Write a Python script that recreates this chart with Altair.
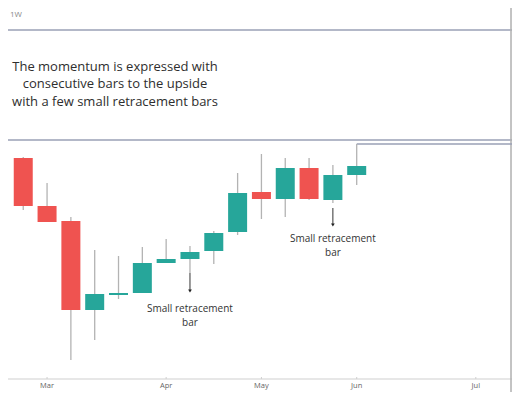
import altair as alt
import pandas as pd

# Weekly candles (bar index, arbitrary price units)
bar_idx = list(range(1, 16))
opens  = [242, 194, 179,  90, 105, 107, 137, 141, 149, 168, 208, 201, 232, 200, 225]
closes = [194, 178,  90, 106, 107, 137, 141, 148, 167, 207, 201, 232, 201, 225, 234]
highs  = [243, 217, 183, 150, 144, 153, 161, 154, 169, 227, 246, 242, 242, 235, 256]
lows   = [190, 178,  40,  60, 101, 107, 137, 127, 136, 165, 181, 183, 200, 197, 215]

month_labels = ["Mar", "Apr", "May", "Jun", "Jul"]
month_idx = [2, 7, 11, 15, 20]

box_lines = ["The momentum is expressed with",
             "consecutive bars to the upside",
             "with a few small retracement bars"]
box_y = [333, 316, 298]

note_lines = ["Small retracement", "bar"]
note1_idx, note1_y = 8, [91, 77]
note2_idx, note2_y = 14, [161, 147]

GREEN = "#26a69a"
RED = "#ef5350"
FRAME = "#9aa0b6"
FONT = "Open Sans"

candles = pd.DataFrame({"k": bar_idx, "open": opens, "close": closes,
                        "high": highs, "low": lows})
candles["dir"] = ["up" if c >= o else "down" for o, c in zip(opens, closes)]

xs = alt.Scale(domain=[0.57, 21.31], nice=False, zero=False)
ys = alt.Scale(domain=[8, 392], nice=False, zero=False)
X = lambda f: alt.X(f, scale=xs, axis=None)
Y = lambda f: alt.Y(f, scale=ys, axis=None)
col = alt.Color("dir:N", scale=alt.Scale(domain=["up", "down"], range=[GREEN, RED]), legend=None)

base = alt.Chart(candles)

wicks = base.mark_rule(color="#b3b3b3", strokeWidth=1.3).encode(
    x=X("k:Q"), y=Y("low:Q"), y2="high:Q")
bodies = base.mark_bar(size=19).encode(
    x=X("k:Q"), y=Y("open:Q"), y2="close:Q", color=col)

frame_df = pd.DataFrame({"p": [370, 260]})
frame = alt.Chart(frame_df).mark_rule(color=FRAME, strokeWidth=1.4).encode(
    y=Y("p:Q"), x=alt.value(0), x2=alt.value(504))

last_df = pd.DataFrame({"k": [bar_idx[-1]], "p": [highs[-1]]})
price_line = alt.Chart(last_df).mark_rule(color=FRAME, strokeWidth=1.3).encode(
    x=X("k:Q"), x2=alt.value(504), y=Y("p:Q"))

right_border = alt.Chart(frame_df).mark_rule(color="#b0b0b0", strokeWidth=1).encode(
    x=alt.value(503), y=alt.value(0), y2=alt.value(384))

axis_df = pd.DataFrame({"p": [21]})
axis_line = alt.Chart(axis_df).mark_rule(color="#cfcfcf", strokeWidth=1).encode(
    y=Y("p:Q"), x=alt.value(0), x2=alt.value(504))

months = pd.DataFrame({"k": month_idx, "m": month_labels, "p": [14] * 5,
                       "t0": [21] * 5, "t1": [23] * 5})
month_ticks = alt.Chart(months).mark_rule(color="#cfcfcf").encode(
    x=X("k:Q"), y=Y("t0:Q"), y2="t1:Q")
month_text = alt.Chart(months).mark_text(fontSize=7.5, color="#666666", font=FONT,
                                         baseline="middle").encode(
    x=X("k:Q"), y=Y("p:Q"), text="m:N")

tf = pd.DataFrame({"t": ["1W"]})
tf_text = alt.Chart(tf).mark_text(fontSize=8, color="#8a8a8a", font=FONT, align="left",
                                  baseline="middle").encode(
    x=alt.value(2), y=alt.value(7), text="t:N")

box_df = pd.DataFrame({"t": box_lines, "p": box_y})
box_text = alt.Chart(box_df).mark_text(fontSize=13, color="#2e2e2e", font=FONT).encode(
    x=alt.value(107), y=Y("p:Q"), text="t:N")

notes_df = pd.DataFrame({
    "t": note_lines + note_lines,
    "k": [note1_idx] * 2 + [note2_idx] * 2,
    "p": note1_y + note2_y})
notes = alt.Chart(notes_df).mark_text(fontSize=10, color="#333333", font=FONT).encode(
    x=X("k:Q"), y=Y("p:Q"), text="t:N")

arrows_df = pd.DataFrame({"k": [note1_idx, note2_idx], "a": [127, 192], "b": [109, 175]})
arrow_lines = alt.Chart(arrows_df).mark_rule(color="#333333", strokeWidth=1).encode(
    x=X("k:Q"), y=Y("a:Q"), y2="b:Q")
arrow_heads = alt.Chart(arrows_df).mark_point(shape="triangle-down", filled=True,
                                              size=14, color="#222222", opacity=1).encode(
    x=X("k:Q"), y=Y("b:Q"))

chart = alt.layer(
    frame, axis_line, month_ticks, right_border, price_line,
    wicks, bodies, arrow_lines, arrow_heads,
    month_text, tf_text, box_text, notes
).properties(
    width=504, height=384, padding=0, autosize="none", background="white"
).configure_view(stroke=None)

chart.save("out.html", embed_options={"renderer": "svg", "actions": False})
